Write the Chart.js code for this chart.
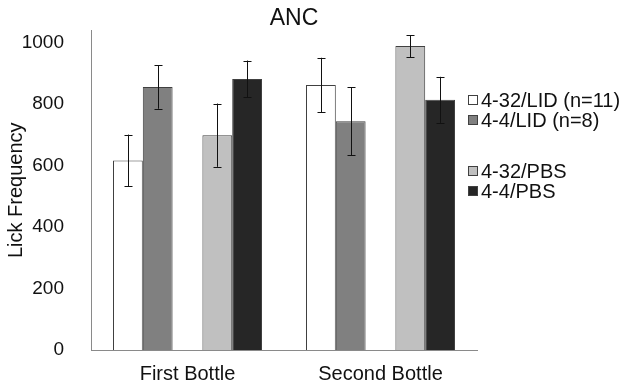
<!DOCTYPE html>
<html>
<head>
<meta charset="utf-8">
<script src="https://cdn.jsdelivr.net/npm/chart.js@4"></script>
<style>
  body { margin: 0; background: #fff; }
  #wrap { position: relative; width: 629px; height: 384px; }
  #legend { position: absolute; left: 468px; top: 90px; font: 20px "Liberation Sans", Arial, sans-serif; color: #111; }
  #legend .row { height: 20px; line-height: 20px; display: flex; align-items: center; white-space: nowrap; }
  #legend .box { width: 8px; height: 8px; border: 1px solid #404040; margin-right: 3px; }
</style>
</head>
<body>
<div id="wrap">
  <canvas id="chart" width="629" height="384"></canvas>
  <div id="legend"></div>
</div>
<script>
const categories = ["First Bottle", "Second Bottle"];
const seriesLabels = ["4-32/LID (n=11)", "4-4/LID (n=8)", "", "4-32/PBS", "4-4/PBS"];
const lid432 = [617, 862];
const lid44 = [856, 744];
const spacer = [null, null];
const pbs432 = [699, 989];
const pbs44 = [882, 814];
const lid432Err = [84, 89];
const lid44Err = [71, 111];
const pbs432Err = [103, 36];
const pbs44Err = [60, 75];
const yTicks = [0, 200, 400, 600, 800, 1000];

const COLORS = {
  text: "#111111",
  axis: "#8a8a8a",
  edge: "#404040",
  fills: ["#ffffff", "#808080", "#ffffff", "#c0c0c0", "#262626"]
};
const FONT = '"Liberation Sans", Arial, sans-serif';

const seriesData = [lid432, lid44, spacer, pbs432, pbs44];
const seriesErr = [lid432Err, lid44Err, null, pbs432Err, pbs44Err];

const errorBars = {
  id: "errorBars",
  afterDatasetsDraw(chart) {
    const ctx = chart.ctx;
    const y = chart.scales.y;
    ctx.save();
    ctx.strokeStyle = "#111";
    ctx.lineWidth = 1;
    chart.data.datasets.forEach((ds, i) => {
      const err = seriesErr[i];
      if (!err) return;
      chart.getDatasetMeta(i).data.forEach((bar, j) => {
        const v = ds.data[j];
        const x = Math.round(bar.x) + 0.5;
        const top = y.getPixelForValue(v + err[j]);
        const bot = y.getPixelForValue(v - err[j]);
        ctx.beginPath();
        ctx.moveTo(x, top); ctx.lineTo(x, bot);
        ctx.moveTo(x - 4, Math.round(top) + 0.5); ctx.lineTo(x + 4, Math.round(top) + 0.5);
        ctx.moveTo(x - 4, Math.round(bot) + 0.5); ctx.lineTo(x + 4, Math.round(bot) + 0.5);
        ctx.stroke();
      });
    });
    ctx.restore();
  }
};

const titleText = {
  id: "titleText",
  afterDraw(chart) {
    const ctx = chart.ctx;
    const a = chart.chartArea;
    ctx.save();
    ctx.font = "23px " + FONT;
    ctx.fillStyle = COLORS.text;
    ctx.textAlign = "center";
    ctx.textBaseline = "middle";
    ctx.fillText("ANC", (a.left + a.right) / 2 + 10, 19);
    ctx.restore();
  }
};

const chart = new Chart(document.getElementById("chart"), {
  type: "bar",
  data: {
    labels: categories,
    datasets: seriesData.map((d, i) => ({
      label: seriesLabels[i],
      data: d,
      backgroundColor: COLORS.fills[i],
      borderColor: COLORS.edge,
      borderWidth: 1,
      categoryPercentage: 0.772,
      barPercentage: 1.0
    }))
  },
  options: {
    responsive: false,
    animation: false,
    layout: { padding: { top: 27, right: 152, left: 0, bottom: 0 } },
    plugins: {
      legend: { display: false },
      title: { display: false },
      tooltip: { enabled: false }
    },
    scales: {
      x: {
        grid: { display: false },
        border: { color: COLORS.axis, width: 1 },
        ticks: { color: COLORS.text, font: { family: FONT, size: 20 }, padding: 4 },
        afterFit(scale) { scale.height = 34; }
      },
      y: {
        min: 0,
        max: 1040,
        grid: { display: false },
        border: { color: COLORS.axis, width: 1 },
        ticks: {
          color: COLORS.text,
          font: { family: FONT, size: 19 },
          padding: 19,
          callback: (v) => String(v)
        },
        afterBuildTicks(scale) { scale.ticks = yTicks.map(v => ({ value: v })); },
        title: {
          display: true,
          text: "Lick Frequency",
          color: COLORS.text,
          font: { family: FONT, size: 20 },
          padding: { top: 4, bottom: 4 }
        },
        afterFit(scale) { scale.width = 91; }
      }
    }
  },
  plugins: [errorBars, titleText]
});

// legend built from the chart's datasets
const legend = document.getElementById("legend");
chart.data.datasets.forEach((ds) => {
  const row = document.createElement("div");
  row.className = "row";
  if (ds.label) {
    const box = document.createElement("span");
    box.className = "box";
    box.style.background = ds.backgroundColor;
    row.appendChild(box);
    row.appendChild(document.createTextNode(ds.label));
  } else {
    row.style.height = "31px";
  }
  legend.appendChild(row);
});
</script>
</body>
</html>
